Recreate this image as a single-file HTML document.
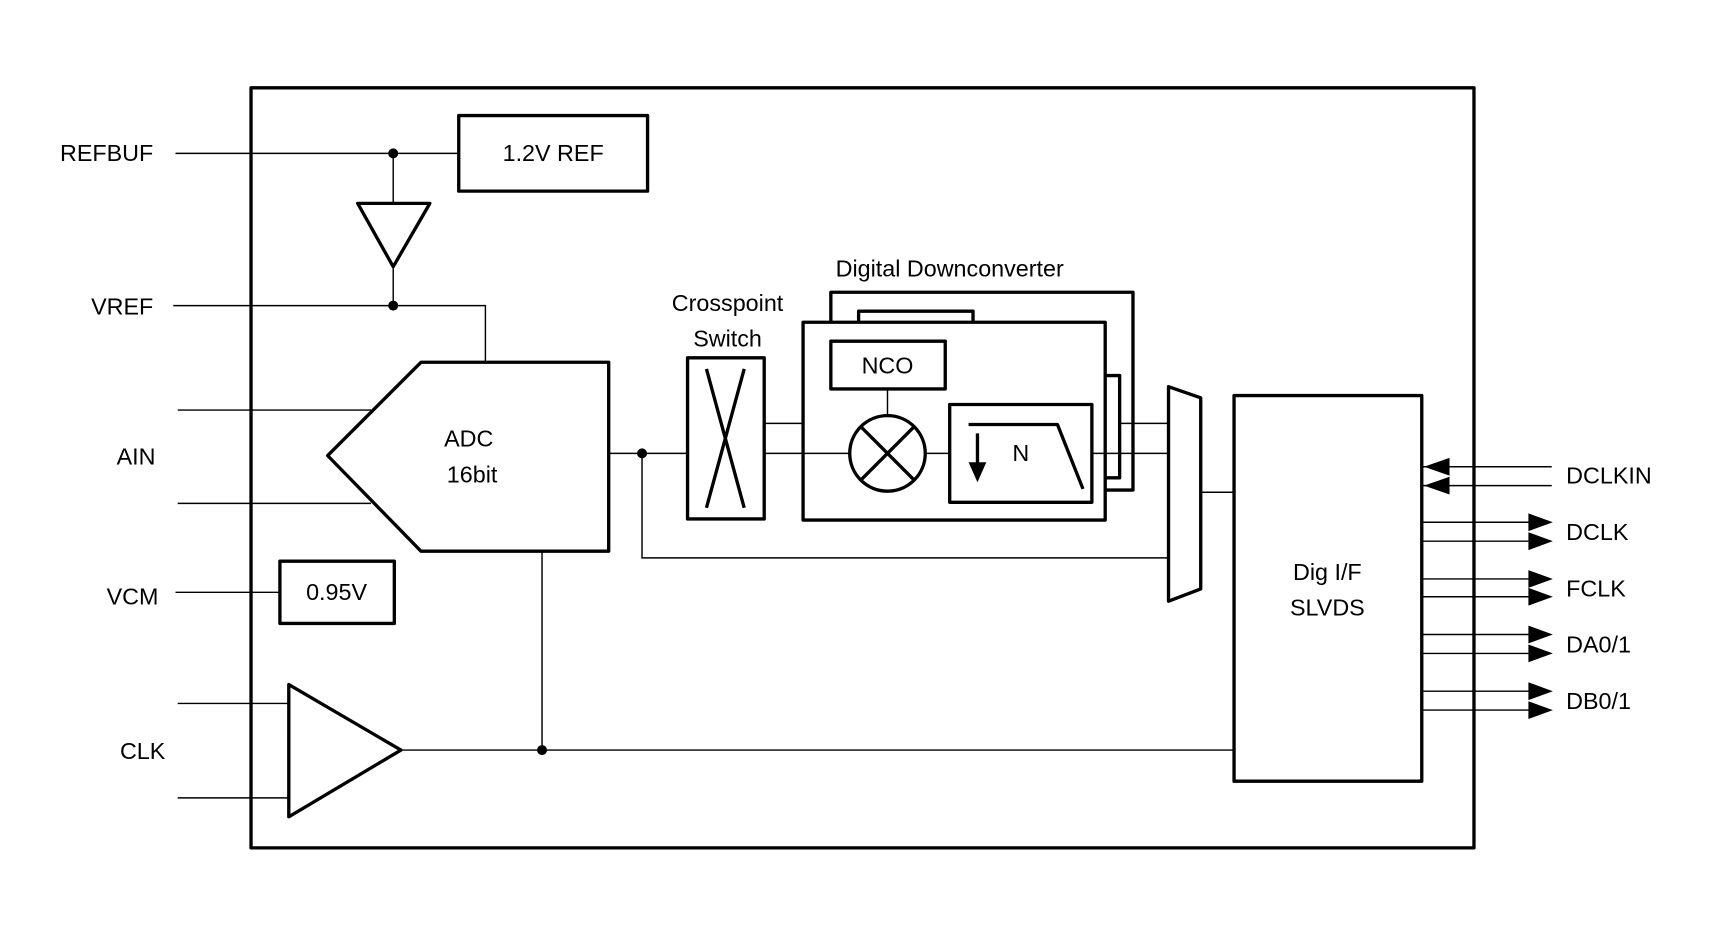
<!DOCTYPE html>
<html><head><style>html,body{margin:0;padding:0;background:#fff}svg{display:block}text{font-family:"Liberation Sans",sans-serif;fill:#000}</style></head>
<body>
<svg width="1735" height="929" viewBox="0 0 1562 836" preserveAspectRatio="none" xmlns="http://www.w3.org/2000/svg">
<g fill="none" stroke="#000" stroke-width="3" stroke-linejoin="round">
<rect x="226" y="79" width="1101" height="684"/>
<rect x="413" y="104" width="170" height="68"/>
<polygon points="322,183 387,183 354,240"/>
<polygon points="379,326 548,326 548,496 379,496 295,410"/>
<rect x="619" y="322" width="69" height="145"/>
<line x1="636" y1="332" x2="670" y2="457"/>
<line x1="670" y1="332" x2="636" y2="457"/>
<polyline points="748,290 748,263 1020,263 1020,441 995,441"/>
<polyline points="773,290 773,280 876,280 876,290"/>
<polyline points="995,338 1008,338 1008,430 995,430"/>
<rect x="723" y="290" width="272" height="178" fill="#fff"/>
<rect x="748" y="307" width="103" height="43"/>
<circle cx="799" cy="408" r="34"/>
<line x1="775" y1="384" x2="823" y2="432"/>
<line x1="823" y1="384" x2="775" y2="432"/>
<rect x="855" y="364" width="128" height="88"/>
<polyline points="872,382 952,382 975,440"/>
<line x1="880" y1="390" x2="880" y2="420"/>
<polygon points="1052,348 1081,358 1081,530 1052,541"/>
<rect x="1111" y="356" width="169" height="347"/>
<rect x="252" y="505" width="103" height="56"/>
<polygon points="260,616 260,735 361,675"/>
</g>
<g fill="none" stroke="#000" stroke-width="1.3">
<line x1="158" y1="138" x2="413" y2="138"/>
<line x1="354" y1="138" x2="354" y2="183"/>
<line x1="354" y1="240" x2="354" y2="275"/>
<polyline points="156,275 437,275 437,326"/>
<line x1="160" y1="369" x2="334" y2="369"/>
<line x1="160" y1="453" x2="334" y2="453"/>
<line x1="548" y1="408" x2="619" y2="408"/>
<polyline points="578,408 578,502 1052,502"/>
<line x1="688" y1="381" x2="723" y2="381"/>
<line x1="688" y1="408" x2="723" y2="408"/>
<line x1="723" y1="408" x2="765" y2="408"/>
<line x1="833" y1="408" x2="855" y2="408"/>
<line x1="799" y1="350" x2="799" y2="374"/>
<line x1="983" y1="408" x2="1052" y2="408"/>
<line x1="1008" y1="381" x2="1052" y2="381"/>
<line x1="1081" y1="443" x2="1111" y2="443"/>
<line x1="158" y1="533" x2="252" y2="533"/>
<line x1="160" y1="633" x2="260" y2="633"/>
<line x1="160" y1="718" x2="260" y2="718"/>
<line x1="361" y1="675" x2="1111" y2="675"/>
<line x1="488" y1="496" x2="488" y2="675"/>
<line x1="1280" y1="420" x2="1397" y2="420"/>
<line x1="1280" y1="437" x2="1397" y2="437"/>
<line x1="1280" y1="470" x2="1380" y2="470"/>
<line x1="1280" y1="487" x2="1380" y2="487"/>
<line x1="1280" y1="521" x2="1380" y2="521"/>
<line x1="1280" y1="537" x2="1380" y2="537"/>
<line x1="1280" y1="571" x2="1380" y2="571"/>
<line x1="1280" y1="588" x2="1380" y2="588"/>
<line x1="1280" y1="622" x2="1380" y2="622"/>
<line x1="1280" y1="639" x2="1380" y2="639"/>
</g>
<g fill="#000">
<polygon points="872,416 888,416 880,434"/>
<circle cx="354" cy="138" r="4.5"/><circle cx="354" cy="275" r="4.5"/>
<circle cx="578" cy="408" r="4.5"/><circle cx="488" cy="675" r="4.5"/>
<polygon points="1282,420 1305,412 1305,428"/><polygon points="1282,437 1305,429 1305,445"/>
<polygon points="1398,470 1376,462 1376,478"/><polygon points="1398,487 1376,479 1376,495"/>
<polygon points="1398,521 1376,513 1376,529"/><polygon points="1398,537 1376,529 1376,545"/>
<polygon points="1398,571 1376,563 1376,579"/><polygon points="1398,588 1376,580 1376,596"/>
<polygon points="1398,622 1376,614 1376,630"/><polygon points="1398,639 1376,631 1376,647"/>
</g>
<g font-size="21">
<text x="54" y="145">REFBUF</text>
<text x="82" y="283">VREF</text>
<text x="105" y="418">AIN</text>
<text x="96" y="544">VCM</text>
<text x="108" y="683">CLK</text>
<text x="498" y="145" text-anchor="middle">1.2V REF</text>
<text x="422" y="402" text-anchor="middle">ADC</text>
<text x="425" y="434" text-anchor="middle">16bit</text>
<text x="655" y="280" text-anchor="middle">Crosspoint</text>
<text x="655" y="312" text-anchor="middle">Switch</text>
<text x="855" y="249" text-anchor="middle">Digital Downconverter</text>
<text x="799" y="336" text-anchor="middle">NCO</text>
<text x="919" y="415" text-anchor="middle">N</text>
<text x="1195" y="522" text-anchor="middle">Dig I/F</text>
<text x="1195" y="554" text-anchor="middle">SLVDS</text>
<text x="303" y="540" text-anchor="middle">0.95V</text>
<text x="1410" y="435">DCLKIN</text>
<text x="1410" y="486">DCLK</text>
<text x="1410" y="537">FCLK</text>
<text x="1410" y="587">DA0/1</text>
<text x="1410" y="638">DB0/1</text>
</g>
</svg>
</body></html>
